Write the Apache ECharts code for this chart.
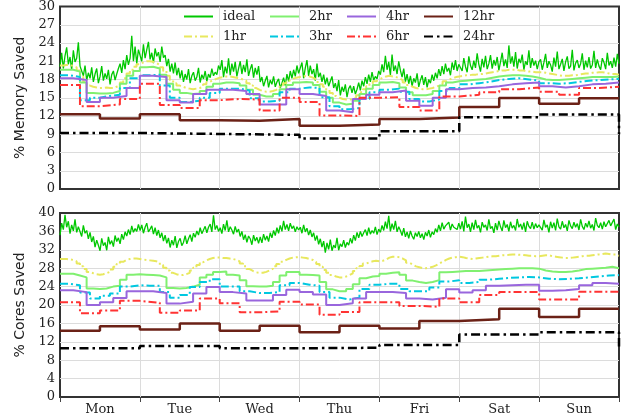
<!DOCTYPE html>
<html>
<head>
<meta charset="utf-8">
<script src="https://cdn.jsdelivr.net/npm/echarts@6/dist/echarts.min.js"></script>
<style>html,body{margin:0;padding:0;background:#fff;}#c{width:623px;height:419px;}</style>
</head>
<body>
<div id="c"></div>
<script>
const HOURS = 168;
const days = ['Mon','Tue','Wed','Thu','Fri','Sat','Sun'];
const seriesNames = ['ideal','1hr','2hr','3hr','4hr','6hr','12hr','24hr'];

// ---------- % Memory Saved (top) ----------
const memIdeal = [
20.1,22.4,19.8,21.9,23.3,20.5,21.7,19.6,22.8,20.9,21.5,24.1,20.2,19.4,18.6,20.3,17.9,19.1,18.2,20.0,17.6,18.9,19.8,17.4,18.5,20.2,17.8,19.0,18.1,19.6,17.2,18.8,19.4,17.9,18.9,19.8,20.6,19.1,21.2,19.7,22.0,20.4,21.5,25.2,21.0,23.4,20.6,22.9,
22.6,21.0,23.8,21.5,22.9,24.2,21.3,22.4,20.7,23.1,21.8,22.5,20.9,23.4,21.6,22.0,20.2,21.4,19.3,20.6,19.0,20.8,18.7,19.9,18.2,19.5,17.6,18.9,18.0,19.7,17.4,18.6,19.2,17.8,18.4,19.9,17.5,18.8,18.1,19.4,17.7,18.9,18.3,19.8,18.6,19.2,18.8,20.3,
19.6,21.2,18.4,20.1,19.0,21.5,18.7,20.6,19.3,20.9,18.5,19.8,21.0,18.9,20.4,19.2,21.3,18.6,19.7,20.5,18.3,19.9,18.8,20.2,17.6,18.4,16.9,17.8,18.6,16.7,17.9,17.2,18.5,16.8,17.6,18.1,16.6,17.4,18.3,17.0,18.9,17.7,19.4,18.2,19.6,18.5,20.3,19.0,
19.3,20.8,18.2,19.9,21.2,18.6,20.3,18.9,19.7,17.8,20.6,18.4,19.1,17.6,18.8,17.2,18.3,16.9,17.7,18.5,16.6,17.4,16.1,17.9,15.4,16.8,16.0,17.2,15.1,16.5,17.0,15.8,16.9,15.6,16.4,17.5,16.2,17.8,16.9,18.4,17.3,18.8,17.6,19.2,17.9,18.5,18.1,19.4,
18.8,20.5,19.2,21.9,19.6,20.9,18.7,22.1,19.4,20.3,18.9,21.0,19.5,18.4,19.8,17.6,18.9,17.3,18.6,16.9,18.2,17.5,19.0,16.8,17.9,18.7,17.1,18.4,16.7,18.0,17.4,18.8,17.8,19.1,18.2,19.7,18.6,20.2,18.9,20.6,19.3,19.9,18.7,20.8,19.6,21.2,19.4,20.5,
20.8,19.4,21.5,20.1,19.2,21.8,20.3,19.6,21.1,19.9,22.3,20.5,19.3,21.4,20.0,21.9,19.7,20.6,22.0,19.8,21.2,20.3,21.7,19.5,20.9,22.4,20.2,21.3,19.9,23.6,20.6,21.8,20.1,22.5,19.8,21.4,20.7,22.1,19.6,21.0,20.4,22.8,19.9,21.5,20.3,21.1,19.7,20.9,
21.3,19.6,20.8,22.2,19.9,21.0,20.4,19.3,21.6,20.1,22.6,19.7,20.5,21.4,19.4,20.9,21.8,19.8,20.2,22.9,19.5,20.7,21.2,19.9,20.6,22.3,19.6,21.1,20.0,21.7,19.8,20.4,22.7,19.9,21.3,20.2,19.6,21.5,20.8,19.7,22.4,20.3,21.0,19.9,21.6,20.1,22.2,20.6
];
const mem1hr = [
20.3,20.4,20.4,20.2,20.0,19.5,18.5,17.6,17.0,16.8,16.7,16.6,16.6,16.7,16.6,16.6,16.8,17.0,17.5,18.2,19.0,19.6,20.1,20.5,
20.8,21.0,21.0,20.9,20.7,20.4,20.0,19.4,18.6,17.9,17.4,17.0,16.8,16.6,16.5,16.4,16.5,16.6,16.8,17.2,17.6,17.9,18.1,18.3,
18.4,18.5,18.5,18.4,18.3,18.2,18.0,17.8,17.4,17.0,16.6,16.3,16.1,16.0,16.0,16.1,16.3,16.6,17.0,17.4,17.8,18.1,18.3,18.4,
18.5,18.6,18.5,18.3,18.0,17.6,17.2,16.8,16.3,15.8,15.3,15.0,14.8,14.7,14.7,14.8,15.0,15.4,15.9,16.4,16.9,17.3,17.7,18.0,
18.3,18.5,18.6,18.5,18.4,18.2,17.9,17.5,17.1,16.8,16.6,16.5,16.4,16.4,16.5,16.6,16.8,17.0,17.3,17.7,18.0,18.2,18.4,18.5,
18.6,18.7,18.7,18.8,18.8,18.9,18.9,19.0,19.1,19.2,19.3,19.4,19.5,19.5,19.6,19.6,19.6,19.5,19.5,19.4,19.3,19.3,19.2,19.2,
19.2,19.1,19.0,18.9,18.8,18.7,18.6,18.6,18.6,18.7,18.7,18.8,18.9,19.0,19.0,19.1,19.1,19.2,19.2,19.1,19.0,18.9,18.9,18.8
];
const mem2hr = [
19.6,19.6,19.3,17.5,15.8,15.7,15.7,15.8,16.1,17.3,18.6,19.4,
20.0,20.1,19.8,18.8,17.3,16.3,15.8,15.6,15.7,16.1,16.8,17.3,
17.5,17.5,17.4,17.0,16.3,15.5,15.2,15.2,15.6,16.4,17.1,17.5,
17.6,17.5,17.1,16.0,15.0,14.2,13.9,14.0,14.5,15.6,16.5,17.1,
17.5,17.6,17.4,16.7,15.9,15.4,15.4,15.6,16.1,17.0,17.5,17.7,
17.8,17.9,18.0,18.1,18.3,18.5,18.6,18.7,18.7,18.6,18.5,18.3,
18.0,17.9,17.9,18.0,18.1,18.2,18.3,18.4,18.4,18.4,18.4,18.5
];
const mem3hr = [
18.7,18.4,14.6,15.0,15.3,15.5,16.6,18.2,
18.7,18.8,17.0,15.0,14.3,14.5,15.0,15.8,
16.5,16.5,16.2,14.9,14.4,14.5,15.9,16.5,
16.7,16.6,15.1,13.6,13.1,13.3,14.8,15.9,
16.3,16.5,16.0,14.8,14.4,14.7,16.1,16.6,
17.2,17.4,17.6,17.9,18.1,18.2,18.0,17.8,
17.4,17.3,17.4,17.6,17.8,17.9,18.0,18.1
];
const mem4hr = [
18.2,17.9,14.3,15.0,15.3,16.6,
18.6,18.4,14.6,14.2,15.6,16.3,
16.3,16.1,15.6,13.9,13.9,16.4,
15.6,15.3,12.9,12.6,14.8,15.5,
15.9,16.2,14.5,13.7,15.0,16.4,
16.6,16.7,16.9,17.2,17.4,17.5,
16.9,16.7,16.9,17.2,17.3,17.5
];
const mem6hr = [
17.1,13.6,13.9,14.8,
17.3,13.8,13.3,14.6,
14.8,14.7,12.9,15.0,
14.3,12.1,12.0,15.0,
15.1,13.5,12.9,15.2,
15.5,15.9,16.4,16.7,
16.0,15.5,16.6,16.8
];
const mem12hr = [12.3,11.6,12.3,11.3,11.2,11.5,10.4,10.6,11.5,11.75,13.5,14.95,14.0,14.9];
const mem24hr = [9.2,9.05,8.9,8.3,9.5,11.8,12.25];
const mem24hrLast = 9.0;

// ---------- % Cores Saved (bottom) ----------
const coresIdeal = [
35.2,37.8,36.4,39.6,36.9,38.2,35.5,37.4,36.1,38.6,35.8,37.0,36.6,34.9,37.3,35.6,36.2,34.4,35.8,33.7,34.9,32.6,34.1,33.0,31.8,34.5,32.9,33.6,31.9,34.8,33.2,34.0,32.7,35.1,33.8,34.6,33.3,35.4,34.2,35.9,35.0,36.4,35.3,37.2,35.8,36.6,36.0,37.5,
36.2,37.4,35.6,36.9,37.8,35.9,36.5,37.2,35.4,36.8,35.1,36.3,34.6,35.7,33.9,35.2,33.4,34.6,32.5,34.1,33.0,35.0,32.4,33.8,34.5,32.9,33.6,35.1,33.3,34.4,35.3,33.8,35.6,34.7,36.1,35.2,36.8,35.5,36.3,37.1,35.7,36.9,37.6,35.9,39.5,36.4,37.3,36.0,
36.8,35.5,37.6,36.2,38.4,35.9,37.0,36.3,35.4,37.1,35.8,36.5,34.9,36.0,34.2,35.3,33.6,35.0,34.4,33.1,35.2,33.9,34.7,33.4,34.8,33.5,35.4,34.1,35.0,33.8,35.7,34.6,36.2,35.1,36.8,35.6,37.3,36.0,38.3,36.4,37.5,36.1,37.8,36.6,37.2,35.9,37.0,36.3,
36.9,35.6,37.4,35.9,36.7,35.2,36.3,34.8,35.7,34.0,35.1,33.2,34.4,32.6,33.9,31.4,33.5,32.1,34.2,31.8,33.0,32.4,34.6,31.9,33.3,32.7,34.1,32.5,33.6,33.0,34.5,33.4,35.2,34.0,35.8,34.6,36.0,34.9,35.7,36.4,35.1,36.8,35.4,36.2,35.6,37.0,35.3,36.5,
35.8,37.3,36.2,38.1,36.6,39.4,36.0,37.7,36.4,38.3,35.9,37.0,36.2,35.1,36.7,34.8,35.9,34.5,36.1,35.0,34.3,35.7,34.9,36.0,34.6,35.5,34.2,35.8,35.0,36.3,34.7,35.9,35.3,36.6,35.8,37.4,36.1,37.9,36.5,37.2,36.8,38.0,36.3,37.6,36.9,37.1,36.4,37.8,
36.5,38.2,36.0,39.2,36.8,37.6,35.9,37.9,36.4,38.5,36.7,37.3,35.8,38.0,36.9,37.4,36.2,38.6,36.6,37.1,35.7,37.8,36.3,38.3,37.0,36.1,38.4,36.8,37.5,36.0,38.1,36.7,37.3,36.2,38.7,36.9,37.6,36.4,37.9,35.9,38.2,37.1,36.6,38.0,36.5,37.7,36.8,37.4,
37.6,36.3,38.5,36.9,37.4,35.8,38.1,36.7,37.9,36.2,38.8,37.0,36.5,38.2,36.8,37.5,36.1,38.4,37.2,36.6,38.0,36.9,37.7,36.3,38.6,37.1,36.4,37.8,36.9,38.3,36.7,37.5,36.2,38.9,37.3,36.8,37.9,36.5,38.1,37.0,36.6,38.4,37.2,36.9,38.7,36.4,37.6,37.0
];
const cores1hr = [
30.0,30.0,29.9,29.8,29.5,29.0,28.4,27.8,27.2,26.9,26.7,26.6,26.7,26.9,27.2,27.7,28.3,28.9,29.4,29.8,30.0,30.1,30.1,30.0,
29.9,29.8,29.7,29.6,29.5,29.2,28.7,28.1,27.5,27.0,26.7,26.5,26.5,26.7,27.0,27.5,28.1,28.7,29.3,29.7,30.0,30.2,30.3,30.3,
30.2,30.2,30.1,30.0,29.8,29.5,29.0,28.4,27.8,27.4,27.1,27.0,27.0,27.2,27.5,27.9,28.4,28.9,29.4,29.8,30.1,30.3,30.4,30.4,
30.3,30.2,30.0,29.8,29.4,28.9,28.3,27.6,27.0,26.5,26.2,26.0,26.0,26.2,26.5,26.9,27.4,28.0,28.5,29.0,29.3,29.5,29.6,29.5,
29.6,29.9,30.3,30.5,30.5,30.4,30.1,29.7,29.2,28.8,28.4,28.2,28.0,28.0,28.1,28.3,28.6,29.0,29.4,29.8,30.1,30.3,30.4,30.5,
30.4,30.2,30.1,30.0,30.1,30.2,30.3,30.4,30.5,30.6,30.6,30.7,30.8,30.8,30.9,31.0,31.0,30.9,30.9,30.8,30.7,30.7,30.6,30.6,
30.7,30.8,30.8,30.6,30.5,30.4,30.3,30.2,30.2,30.3,30.4,30.5,30.6,30.7,30.7,30.8,30.9,31.0,31.1,31.2,31.1,31.0,31.0,30.7
];
const cores2hr = [
26.8,26.8,26.4,26.0,23.6,23.5,23.6,24.0,24.2,25.5,26.6,26.7,
26.6,26.5,26.4,26.0,23.7,23.6,23.7,24.0,24.4,26.0,26.6,27.2,
27.3,26.6,26.4,25.4,24.1,24.0,24.0,24.2,25.0,26.4,27.2,27.2,
26.6,26.5,26.4,25.0,23.4,23.0,23.0,23.5,24.5,25.8,26.2,26.3,
26.8,27.0,27.1,26.6,25.3,25.0,24.8,25.0,25.4,27.1,27.2,27.3,
27.4,27.4,27.4,27.5,27.6,27.7,27.8,27.9,28.0,28.0,28.0,27.9,
27.5,27.3,27.2,27.2,27.3,27.5,27.8,27.9,28.0,28.1,28.3,28.0
];
const cores3hr = [
24.6,24.3,22.7,21.4,22.0,22.5,24.0,24.3,
24.2,24.2,22.8,21.6,22.2,23.9,25.0,25.6,
24.0,24.0,23.0,22.6,22.6,22.8,24.3,24.8,
24.4,24.2,22.8,21.6,21.2,21.6,23.5,24.4,
24.6,24.6,23.5,23.0,23.0,23.8,25.1,25.4,
24.8,25.0,25.5,25.7,25.9,26.0,26.1,26.0,
25.7,25.6,25.7,25.8,26.0,26.2,26.4,26.5
];
const cores4hr = [
23.2,22.8,20.0,20.6,21.5,23.0,
23.0,22.6,20.3,20.7,22.5,23.9,
22.8,22.5,21.0,21.0,22.2,23.3,
22.8,22.3,20.0,20.4,21.4,22.8,
22.8,22.6,21.4,21.2,21.6,23.4,
22.7,23.2,24.2,24.3,24.4,24.4,
23.1,23.2,23.5,24.3,24.8,24.6
];
const cores6hr = [
20.6,18.2,18.8,20.9,
20.5,18.3,18.8,21.4,
20.4,18.4,18.6,20.7,
20.1,17.9,18.5,20.6,
20.6,19.8,19.6,21.4,
20.6,22.2,22.8,22.8,
21.2,21.2,22.9,22.9
];
const cores12hr = [14.4,15.4,14.7,16.0,14.4,15.5,14.1,15.5,14.9,16.5,16.9,19.2,17.4,19.2];
const cores24hr = [10.6,11.1,10.6,10.7,11.3,13.6,14.1];
const cores24hrLast = 11.0;

// ---------- helpers ----------
function stepPts(vals, block, last) {
  const pts = vals.map((v, i) => [i * block, v]);
  pts.push([HOURS, last === undefined ? vals[vals.length - 1] : last]);
  return pts;
}
function idealPts(vals) {
  const n = vals.length;
  return vals.map((v, i) => [i * HOURS / (n - 1), v]);
}
const DD = [8, 3, 2, 3];
const DD2 = [9, 4, 2.5, 4];
const styles = {
  'ideal': {color: '#00c800', width: 1.3, type: 'solid'},
  '1hr':   {color: '#e8e85e', width: 2, type: DD},
  '2hr':   {color: '#80f070', width: 2, type: 'solid'},
  '3hr':   {color: '#00c8e0', width: 2, type: DD},
  '4hr':   {color: '#9966dd', width: 2, type: 'solid'},
  '6hr':   {color: '#ff3333', width: 2, type: DD},
  '12hr':  {color: '#6b2116', width: 2.5, type: 'solid'},
  '24hr':  {color: '#000000', width: 2.5, type: DD2}
};
function mk(name, data, idx, step) {
  const s = styles[name];
  return {
    name, type: 'line', data, xAxisIndex: idx === 0 ? 0 : 1, yAxisIndex: idx,
    showSymbol: false, symbol: 'none', step: step ? 'end' : false,
    color: s.color, animation: false,
    lineStyle: {color: s.color, width: s.width, type: s.type},
    emphasis: {disabled: true}
  };
}
function panelSeries(idx, A) {
  return [
    mk('ideal', idealPts(A.ideal), idx, false),
    mk('1hr', stepPts(A.h1, 1), idx, true),
    mk('2hr', stepPts(A.h2, 2), idx, true),
    mk('3hr', stepPts(A.h3, 3), idx, true),
    mk('4hr', stepPts(A.h4, 4), idx, true),
    mk('6hr', stepPts(A.h6, 6), idx, true),
    mk('12hr', stepPts(A.h12, 12), idx, true),
    mk('24hr', stepPts(A.h24, 24, A.last24), idx, true)
  ];
}
const serif = 'DejaVu Serif';
const gridLine = {show: true, lineStyle: {color: '#dcdcdc', width: 1}, showMinLine: false, showMaxLine: false};
function yAx(idx, max, interval, name) {
  return {
    type: 'value', gridIndex: idx, min: 0, max, interval,
    name, nameLocation: 'middle', nameGap: 33,
    nameTextStyle: {fontFamily: 'DejaVu Sans', fontSize: 14, color: '#222'},
    axisLine: {show: false}, axisTick: {show: false},
    axisLabel: {fontFamily: serif, fontSize: 13, color: '#222', margin: 5},
    splitLine: gridLine
  };
}
function xAx(idx, ticks) {
  return {
    type: 'value', gridIndex: idx, min: 0, max: HOURS, interval: 24,
    axisLine: {show: false},
    axisTick: {show: ticks, length: 5, inside: false, lineStyle: {color: '#444', width: 1}},
    axisLabel: {show: false}, splitLine: gridLine
  };
}
// legend layout: 2 rows x 4 columns
const legendCols = [183, 269, 346, 423];
const legendRows = [10, 30];
const legendOrder = [['ideal','2hr','4hr','12hr'], ['1hr','3hr','6hr','24hr']];
const legends = [];
legendOrder.forEach((row, r) => row.forEach((nm, c) => {
  legends.push({
    data: [nm], left: legendCols[c], top: legendRows[r], padding: 0,
    itemWidth: 29, itemHeight: 14, selectedMode: false,
    itemStyle: {opacity: 0, borderWidth: 0},
    textStyle: {fontFamily: serif, fontSize: 13, color: '#222', padding: [0, 0, 0, 5]}
  });
}));

const chart = echarts.init(document.getElementById('c'), null, {renderer: 'canvas'});
chart.setOption({
  animation: false,
  backgroundColor: '#fff',
  legend: legends,
  grid: [
    {left: 60, right: 4, top: 6, height: 183, show: true, borderColor: '#333', borderWidth: 2, backgroundColor: 'transparent'},
    {left: 60, right: 4, top: 213, height: 184, show: true, borderColor: '#333', borderWidth: 2, backgroundColor: 'transparent'}
  ],
  xAxis: [
    xAx(0, false),
    xAx(1, true),
    {type: 'category', gridIndex: 1, data: days, boundaryGap: true, position: 'bottom', offset: 0,
     axisLine: {show: false}, axisTick: {show: false}, splitLine: {show: false},
     axisLabel: {fontFamily: serif, fontSize: 13, color: '#222', margin: 6}}
  ],
  yAxis: [
    yAx(0, 30, 3, '% Memory Saved'),
    yAx(1, 40, 4, '% Cores Saved')
  ],
  series: [].concat(
    panelSeries(0, {ideal: memIdeal, h1: mem1hr, h2: mem2hr, h3: mem3hr, h4: mem4hr, h6: mem6hr, h12: mem12hr, h24: mem24hr, last24: mem24hrLast}),
    panelSeries(1, {ideal: coresIdeal, h1: cores1hr, h2: cores2hr, h3: cores3hr, h4: cores4hr, h6: cores6hr, h12: cores12hr, h24: cores24hr, last24: cores24hrLast})
  )
});
</script>
</body>
</html>
